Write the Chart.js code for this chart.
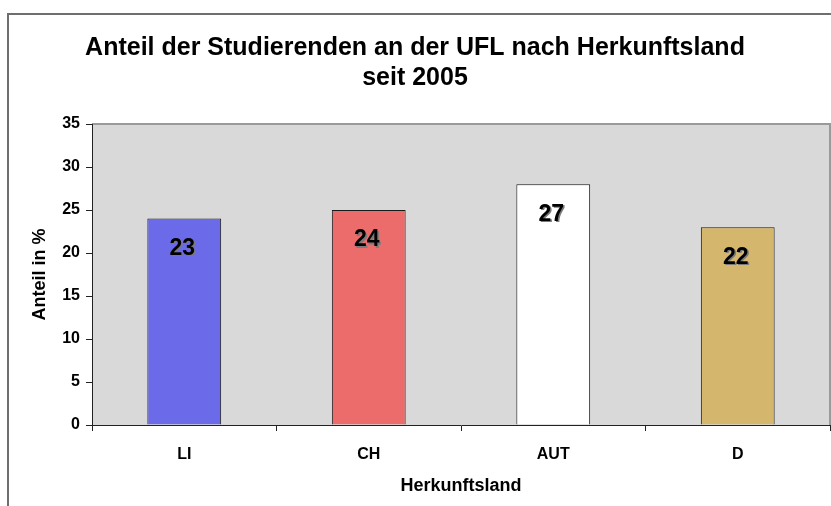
<!DOCTYPE html>
<html lang="de">
<head>
    <meta charset="UTF-8">
    <title>Anteil der Studierenden an der UFL</title>
    <script src="https://cdn.jsdelivr.net/npm/chart.js"></script>
    <style>
        html, body { margin: 0; padding: 0; background: #fff; }
        #wrap { width: 831px; height: 506px; }
    </style>
</head>
<body>
    <div id="wrap"><canvas id="chart" width="831" height="506"></canvas></div>
    <script>
        // Daten
        const titleLines = ['Anteil der Studierenden an der UFL nach Herkunftsland', 'seit 2005'];
        const countries = ['LI', 'CH', 'AUT', 'D'];
        const shares = [24, 25, 28, 23];          // Balkenhöhe
        const shareLabels = [23, 24, 27, 22];     // Beschriftung im Balken
        const barColors = ['#6b6bea', '#ec6b6b', '#ffffff', '#d4b76c'];
        const yMin = 0, yMax = 35, yStep = 5;

        const FONT = "'Liberation Sans', Arial, sans-serif";

        // grauer Hintergrund der Zeichenfläche + Rahmen
        const plotBackground = {
            id: 'plotBackground',
            beforeDraw(chart) {
                const { ctx, chartArea: a } = chart;
                ctx.save();
                ctx.fillStyle = '#d9d9d9';
                ctx.fillRect(a.left, a.top, a.right - a.left, a.bottom - a.top);
                // Rahmen oben / rechts
                ctx.strokeStyle = '#9a9a9a';
                ctx.lineWidth = 2;
                ctx.beginPath();
                ctx.moveTo(a.left, a.top);
                ctx.lineTo(a.right, a.top);
                ctx.lineTo(a.right, a.bottom);
                ctx.stroke();
                // äusserer Diagrammrahmen
                ctx.strokeStyle = '#6e6e6e';
                ctx.beginPath();
                ctx.moveTo(8, chart.height);
                ctx.lineTo(8, 14);
                ctx.lineTo(chart.width, 14);
                ctx.stroke();
                ctx.restore();
            }
        };

        // Zahlen in den Balken mit Schatten
        const barLabels = {
            id: 'barLabels',
            afterDatasetsDraw(chart) {
                const { ctx } = chart;
                const meta = chart.getDatasetMeta(0);
                ctx.save();
                ctx.font = 'bold 23px ' + FONT;
                ctx.textAlign = 'center';
                ctx.textBaseline = 'middle';
                ctx.shadowColor = '#7a7a7a';
                ctx.shadowOffsetX = 1.5;
                ctx.shadowOffsetY = 1.5;
                ctx.shadowBlur = 0;
                ctx.fillStyle = '#000';
                meta.data.forEach((bar, i) => {
                    ctx.fillText(String(shareLabels[i]), bar.x - 2, bar.y + 30);
                });
                ctx.restore();
            }
        };

        new Chart(document.getElementById('chart'), {
            type: 'bar',
            data: {
                labels: countries,
                datasets: [{
                    data: shares,
                    backgroundColor: barColors,
                    borderColor: '#1a1a1a',
                    borderWidth: 1,
                    barPercentage: 0.4,
                    categoryPercentage: 1
                }]
            },
            options: {
                responsive: false,
                animation: false,
                layout: { padding: { left: 0, right: 1, top: 0, bottom: 0 } },
                plugins: {
                    legend: { display: false },
                    tooltip: { enabled: false },
                    title: {
                        display: true,
                        text: titleLines,
                        color: '#000',
                        font: { family: FONT, size: 25, weight: 'bold', lineHeight: 1.2 },
                        padding: { top: 33, bottom: 31 }
                    }
                },
                scales: {
                    x: {
                        offset: true,
                        grid: {
                            offset: true,
                            drawOnChartArea: false,
                            drawTicks: true,
                            tickLength: 6,
                            color: '#222'
                        },
                        border: { color: '#222', width: 1 },
                        ticks: {
                            color: '#000',
                            font: { family: FONT, size: 16, weight: 'bold' },
                            padding: 14
                        },
                        title: {
                            display: true,
                            text: 'Herkunftsland',
                            color: '#000',
                            font: { family: FONT, size: 18, weight: 'bold' },
                            padding: { top: 0, bottom: 9 }
                        },
                        afterFit(scale) { scale.height = 81; }
                    },
                    y: {
                        min: yMin,
                        max: yMax,
                        grid: {
                            drawOnChartArea: false,
                            drawTicks: true,
                            tickLength: 6,
                            color: '#222'
                        },
                        border: { color: '#222', width: 1 },
                        ticks: {
                            stepSize: yStep,
                            color: '#000',
                            font: { family: FONT, size: 16, weight: 'bold' },
                            padding: 6
                        },
                        title: {
                            display: true,
                            text: 'Anteil in %',
                            color: '#000',
                            font: { family: FONT, size: 18, weight: 'bold' },
                            padding: { top: 29, bottom: 0 }
                        },
                        afterFit(scale) { scale.width = 92; }
                    }
                }
            },
            plugins: [plotBackground, barLabels]
        });
    </script>
</body>
</html>
